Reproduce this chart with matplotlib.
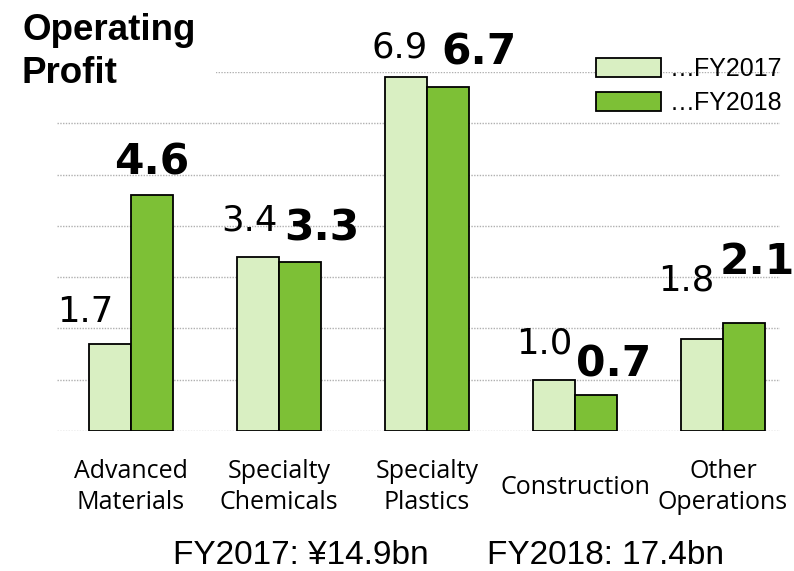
import matplotlib
matplotlib.use("Agg")
import matplotlib.pyplot as plt
from matplotlib.patches import Rectangle
import numpy as np

categories = ["Advanced\nMaterials", "Specialty\nChemicals", "Specialty\nPlastics",
              "Construction", "Other\nOperations"]
fy2017 = [1.7, 3.4, 6.9, 1.0, 1.8]
fy2018 = [4.6, 3.3, 6.7, 0.7, 2.1]
series_names = ["…FY2017", "…FY2018"]
totals_text = ["FY2017: ¥14.9bn", "FY2018: 17.4bn"]

light = "#d9efc2"
dark = "#7dc036"

fig = plt.figure(figsize=(7.94, 5.71), dpi=100)
ax = fig.add_axes([57/794, 1-431/571, (780-57)/794, (431-72)/571])

x = np.arange(len(categories))
w = 0.285
ax.bar(x - w/2, fy2017, w, color=light, edgecolor="black", linewidth=1.3,
       label=series_names[0], zorder=3)
ax.bar(x + w/2, fy2018, w, color=dark, edgecolor="black", linewidth=1.3,
       label=series_names[1], zorder=3)

ax.set_xlim(-0.5, 4.385)
ax.set_ylim(0, 7)
ax.set_yticks(np.arange(0, 8))
ax.yaxis.grid(True, color="#b0b0b0", linestyle=(0, (1, 1)), linewidth=1)
ax.tick_params(left=False, labelleft=False, bottom=False)
for s in ax.spines.values():
    s.set_visible(False)
ax.set_xticks(x)
ax.set_xticklabels(categories, fontsize=18, family="Open Sans", va="center",
                   linespacing=1.3)
ax.tick_params(axis="x", pad=37)

# value labels, offsets in pixels from top of bar
off17 = [(-25, 32), (-8, 36), (-6, 30), (-10, 36), (-16, 58)]
off18 = [(0, 33), (22, 33), (31, 35), (18, 31), (13, 61)]
for i in range(len(categories)):
    ax.annotate(f"{fy2017[i]:.1f}", (x[i] - w/2, fy2017[i]), xytext=off17[i],
                textcoords="offset pixels", ha="center", va="center",
                fontsize=25.5, family="DejaVu Sans", zorder=5)
    ax.annotate(f"{fy2018[i]:.1f}", (x[i] + w/2, fy2018[i]), xytext=off18[i],
                textcoords="offset pixels", ha="center", va="center",
                fontsize=30.5, fontweight="bold", family="DejaVu Sans", zorder=5)

ax.legend(loc="upper left", bbox_to_anchor=(596/794, 1-57/571),
          bbox_transform=fig.transFigure, frameon=False,
          prop={"family": "Liberation Sans", "size": 18},
          handlelength=2.6, handleheight=0.78, handletextpad=0.35, labelspacing=0.4,
          borderpad=0, borderaxespad=0)

# white box behind the title
fig.patches.append(Rectangle((0, 1-95/571), 216/794, 95/571, transform=fig.transFigure,
                             facecolor="white", edgecolor="none", zorder=1))
fig.text(22/794, 1-52/571, "Operating\nProfit", fontsize=26.5, fontweight="bold",
         family="Liberation Sans", ha="left", va="center", linespacing=1.3, zorder=2)

fig.text(173/794, 1-556/571, totals_text[0], fontsize=24, family="Liberation Sans",
         ha="left", va="center")
fig.text(487/794, 1-556/571, totals_text[1], fontsize=24, family="Liberation Sans",
         ha="left", va="center")

fig.savefig("out.png", dpi=100)
